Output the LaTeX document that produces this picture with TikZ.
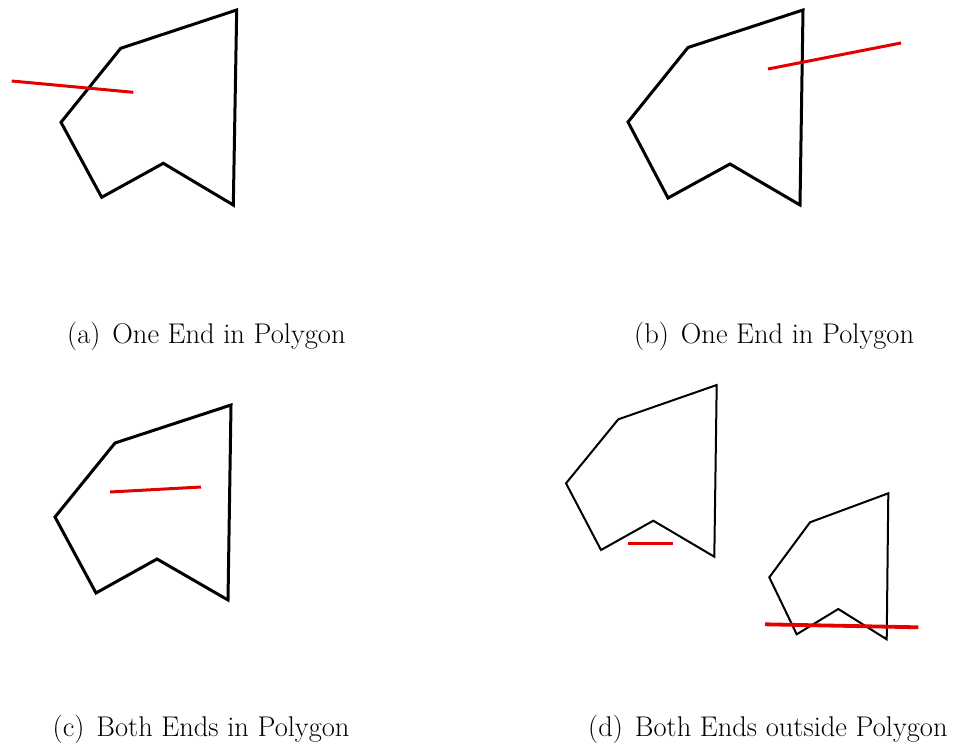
\documentclass[tikz,border=0pt]{standalone}
\begin{document}
\begin{tikzpicture}[x=1pt,y=-1pt,
  poly/.style={draw=black,line width=3pt,line join=miter},
  polythin/.style={draw=black,line width=2pt,line join=miter},
  seg/.style={draw=red!90!black,line width=3pt},
  segthick/.style={draw=red!90!black,line width=3.8pt},
  captext/.style={anchor=base west,inner sep=0pt,font=\fontsize{28.5}{34}\selectfont}]
\useasboundingbox (0,0) rectangle (957,749);
% (a)
\draw[poly] (120.7,48.3) -- (236.7,10) -- (233.3,205) -- (163.3,163.3) -- (101.7,197.3) -- (61,122.3) -- cycle;
\coordinate (a1) at (11.7,81);
\coordinate (a2) at (133.3,92.3);
\draw[seg] (a1) -- (a2);
\node[captext] (capa) at (67,343) {(a)\hspace{0.12em} One End in Polygon};
% (b)
\draw[poly] (688,47.5) -- (803,10) -- (800,205) -- (730,164) -- (668,198) -- (628,122) -- cycle;
\coordinate (b1) at (768,69);
\coordinate (b2) at (901,43);
\draw[seg] (b1) -- (b2);
\node[captext] (capb) at (634,343) {(b)\hspace{0.12em} One End in Polygon};
% (c)
\draw[poly] (115,443) -- (231,405) -- (228,600) -- (157,559) -- (96,593) -- (55,517) -- cycle;
\coordinate (c1) at (110,492);
\coordinate (c2) at (201,487);
\draw[seg] (c1) -- (c2);
\node[captext] (capc) at (52.5,736) {(c)\hspace{0.12em} Both Ends in Polygon};
% (d)
\draw[polythin] (618.3,419.3) -- (716.7,385) -- (714.3,556.7) -- (653.3,520.7) -- (601,550) -- (566,483.3) -- cycle;
\draw[polythin] (810,522.3) -- (888.3,493.3) -- (886.7,639.3) -- (838.3,609) -- (796.7,634.3) -- (769.3,577.3) -- cycle;
\coordinate (d1) at (628.3,543.5);
\coordinate (d2) at (673.3,543.5);
\draw[segthick] (d1) -- (d2);
\coordinate (d3) at (765,624.3);
\coordinate (d4) at (918.3,627.3);
\draw[segthick] (d3) -- (d4);
\node[captext] (capd) at (588,736) {(d)\hspace{0.12em} Both Ends outside Polygon};
\end{tikzpicture}
\end{document}
